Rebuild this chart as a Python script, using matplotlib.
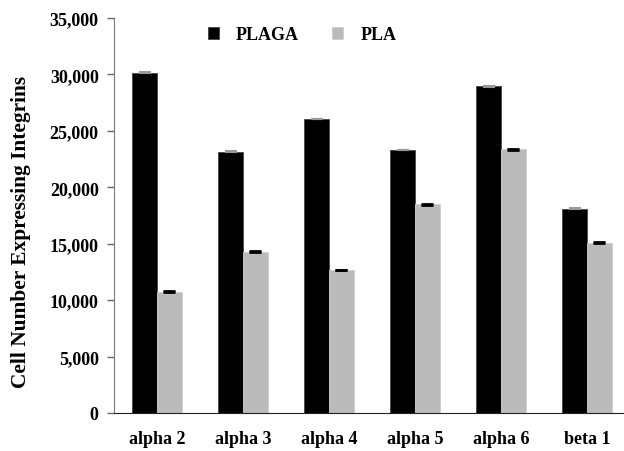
import numpy as np
import matplotlib
matplotlib.use('Agg')
from matplotlib import pyplot as plt

integrins = ['alpha 2', 'alpha 3', 'alpha 4', 'alpha 5', 'alpha 6', 'beta 1']
plaga = [30150, 23150, 26050, 23300, 28950, 18100]
pla = [10750, 14300, 12680, 18500, 23350, 15080]
plaga_err = [30, 30, 30, 30, 30, 30]
pla_err = [30, 30, 30, 30, 30, 30]

plt.rcParams['font.family'] = ['Liberation Serif', 'DejaVu Serif']
plt.rcParams['font.weight'] = 'bold'

fig = plt.figure(figsize=(6.24, 4.52), dpi=100)
# axis runs off the right edge in the reference
ax = fig.add_axes([114/624, 38/452, 516/624, 395/452])

x = np.arange(len(integrins))
w = 0.29
ax.bar(x - w/2, plaga, w, color='black', edgecolor='#444444', linewidth=0.6,
       label='PLAGA', yerr=plaga_err, capsize=4,
       error_kw=dict(ecolor='#999999', elinewidth=1, capthick=1.5))
ax.bar(x + w/2, pla, w, color='#bbbbbb', edgecolor='#d0d0d0', linewidth=0.6,
       label='PLA', yerr=pla_err, capsize=4,
       error_kw=dict(ecolor='black', elinewidth=1, capthick=2))

ax.set_xlim(-0.5, 5.5)
ax.set_ylim(0, 35000)
ax.set_yticks(np.arange(0, 35001, 5000))
ax.set_yticklabels(['{:,}'.format(v) for v in range(0, 35001, 5000)],
                   fontsize=13, fontweight='bold')
ax.set_xticks(x)
ax.set_xticklabels(integrins, fontsize=13, fontweight='bold')
ax.tick_params(axis='x', length=0, pad=12)
ax.tick_params(axis='y', direction='out', length=5, width=1, color='#666666', pad=6)

ax.spines['top'].set_visible(False)
ax.spines['right'].set_visible(False)
ax.spines['left'].set_color('#777777')
ax.spines['bottom'].set_color('#222222')

ax.set_ylabel('Cell Number Expressing Integrins', fontsize=15.4, fontweight='bold')
ax.yaxis.set_label_coords(-0.16, 0.46)

ax.legend(loc='center', bbox_to_anchor=(302/624, 416/452), bbox_transform=fig.transFigure,
          ncol=2, frameon=False, handlelength=0.61, handleheight=0.61,
          columnspacing=1.85, handletextpad=0.95,
          prop=dict(weight='bold', size=13))

fig.savefig('out.png', dpi=100)
